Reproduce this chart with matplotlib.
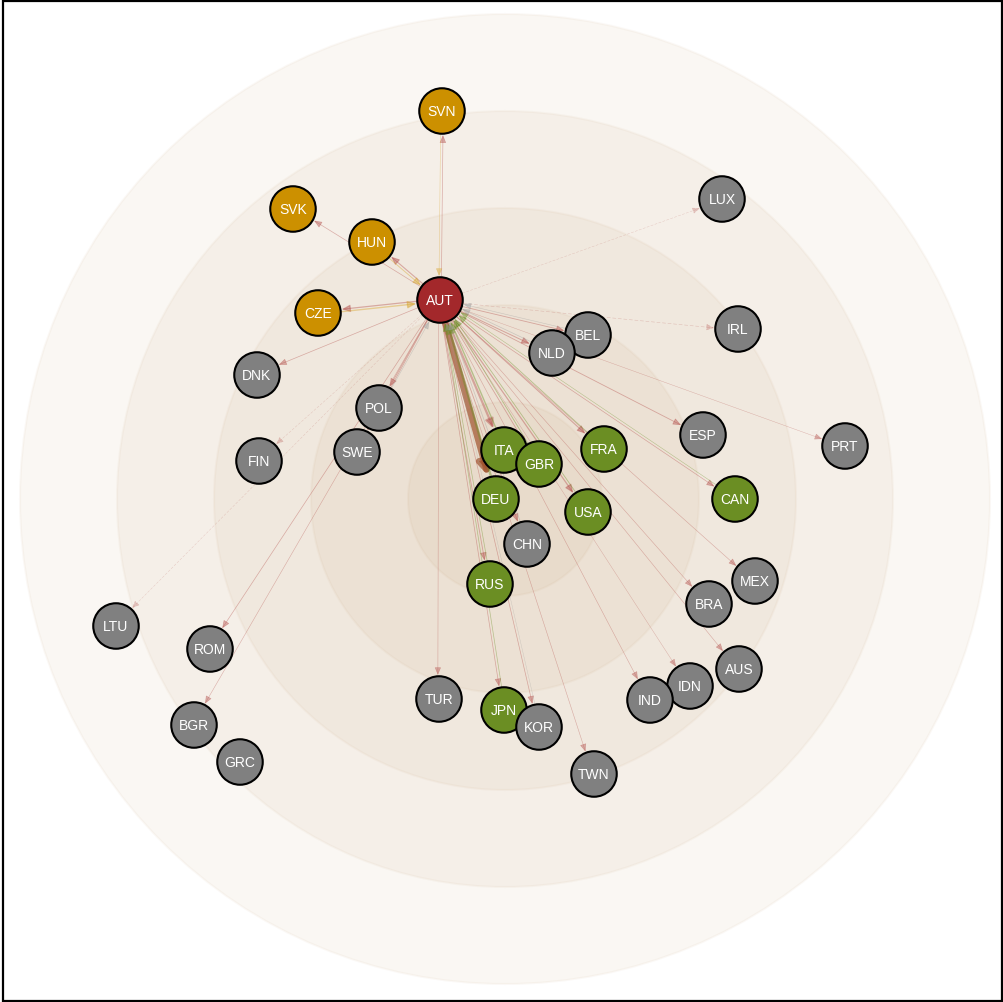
import numpy as np
import matplotlib
matplotlib.use("Agg")
import matplotlib.pyplot as plt
from matplotlib.patches import Circle, FancyArrowPatch, Rectangle

plt.rcParams['font.family'] = ['Liberation Sans', 'DejaVu Sans']

# ---- data -------------------------------------------------------------
focus = "AUT"
codes = ["SVN", "LUX", "SVK", "HUN", "AUT", "CZE", "BEL", "IRL", "NLD", "DNK",
         "POL", "ESP", "PRT", "FIN", "SWE", "ITA", "GBR", "FRA", "DEU", "USA",
         "CAN", "CHN", "RUS", "MEX", "BRA", "LTU", "ROM", "AUS", "IDN", "IND",
         "TUR", "JPN", "KOR", "BGR", "GRC", "TWN"]
# layout positions (pixel-like layout units)
node_x = [442, 722, 293, 372, 440, 318, 588, 738, 552, 257,
          379, 703, 845, 259, 357, 504, 539, 604, 496, 588,
          735, 527, 490, 755, 709, 116, 210, 739, 690, 650,
          439, 504, 539, 194, 240, 594]
node_y = [112, 200, 210, 243, 301, 314, 336, 330, 354, 376,
          409, 436, 447, 462, 453, 451, 465, 450, 500, 513,
          500, 545, 585, 582, 605, 627, 650, 670, 687, 701,
          700, 711, 728, 726, 763, 775]
group = {"AUT": "focus",
         "SVN": "neighbour", "SVK": "neighbour", "HUN": "neighbour", "CZE": "neighbour",
         "ITA": "major", "GBR": "major", "FRA": "major", "DEU": "major", "USA": "major",
         "CAN": "major", "RUS": "major", "JPN": "major"}
group_colors = {"focus": "#a3282b", "neighbour": "#cc9000", "major": "#6b8e23", "other": "#808080"}

# exports: AUT -> partner (relative weight)
export_to = ["DEU", "ITA", "USA", "FRA", "GBR", "CHN", "RUS", "JPN", "KOR", "TWN",
             "TUR", "IND", "IDN", "AUS", "BRA", "MEX", "CAN", "ESP", "NLD", "BEL",
             "IRL", "LUX", "PRT", "POL", "DNK", "SWE", "FIN", "ROM", "BGR", "LTU",
             "CZE", "HUN", "SVK", "SVN"]
export_w = [4.5, 1.6, 0.9, 0.8, 0.6, 0.6, 0.6, 0.5, 0.5, 0.4,
            0.4, 0.4, 0.3, 0.4, 0.4, 0.4, 0.5, 0.6, 0.7, 0.6,
            0.4, 0.3, 0.3, 0.6, 0.5, 0.5, 0.3, 0.5, 0.4, 0.3,
            0.9, 0.8, 0.5, 0.5]
# imports: partner -> AUT
import_from = ["DEU", "ITA", "GBR", "FRA", "USA", "RUS", "JPN", "CAN", "CHN", "NLD",
               "BEL", "POL", "CZE", "HUN", "SVN", "KOR"]
import_w = [1.8, 1.0, 0.6, 0.6, 0.6, 0.5, 0.5, 0.4, 0.5, 0.5,
            0.4, 0.4, 1.0, 0.7, 0.4, 0.3]
faint = ["LUX", "LTU", "FIN", "IRL"]

ring_radii = [485, 388, 291, 194, 97]
ring_center = (505, 500)

# ---- figure -----------------------------------------------------------
W, H = 1004, 1003
fig = plt.figure(figsize=(W / 100, H / 100), dpi=100)
ax = fig.add_axes([0, 0, 1, 1])
ax.set_xlim(0, W)
ax.set_ylim(H, 0)
ax.axis("off")

for r in ring_radii:
    ax.add_patch(Circle(ring_center, r, facecolor=(0.72, 0.53, 0.32, 0.068),
                        edgecolor=(0.72, 0.53, 0.32, 0.05), lw=1.5, zorder=1))

pos = {c: (x, y) for c, x, y in zip(codes, node_x, node_y)}
R = 23.5


def grp(c):
    return group.get(c, "other")


def draw_edge(a, b, w, color, alpha, offset, ls="-"):
    (x0, y0), (x1, y1) = pos[a], pos[b]
    d = np.hypot(x1 - x0, y1 - y0)
    ux, uy = (x1 - x0) / d, (y1 - y0) / d
    px, py = -uy * offset, ux * offset
    p0 = (x0 + ux * R + px, y0 + uy * R + py)
    p1 = (x1 - ux * (R + 0.5) + px, y1 - uy * (R + 0.5) + py)
    hl = 4.5 + w * 0.6
    hw = 1.8 + w * 0.4
    arr = FancyArrowPatch(p0, p1, arrowstyle=f"-|>,head_length={hl},head_width={hw}",
                          mutation_scale=1, color=color, alpha=alpha, lw=w,
                          linestyle=ls, shrinkA=0, shrinkB=0, zorder=2)
    ax.add_patch(arr)


for c, w in zip(export_to, export_w):
    col = "#a0522d" if c == "DEU" else "#b4504c"
    if c in faint:
        draw_edge(focus, c, w, col, 0.28, 1.2, ls=(0, (6, 4)))
    else:
        draw_edge(focus, c, w, col, 0.42 if c != "DEU" else 0.7, 1.2)

for c, w in zip(import_from, import_w):
    g = grp(c)
    col = {"major": "#6b8e23", "neighbour": "#d7a32a", "other": "#9a9a9a"}[g]
    draw_edge(c, focus, w, col, 0.42, 1.2)

for c, x, y in zip(codes, node_x, node_y):
    ax.add_patch(Circle((x, y), R - 0.75, facecolor=group_colors[grp(c)],
                        edgecolor="black", lw=1.5, zorder=3))
    ax.text(x, y, c, color="white", fontsize=10, ha="center", va="center", zorder=4)

fig.add_artist(Rectangle((3 / W, 1 / H), 999 / W, 1000 / H, transform=fig.transFigure,
                         fill=False, edgecolor="black", lw=1.6))

fig.savefig("out.png", dpi=100, facecolor="white")
